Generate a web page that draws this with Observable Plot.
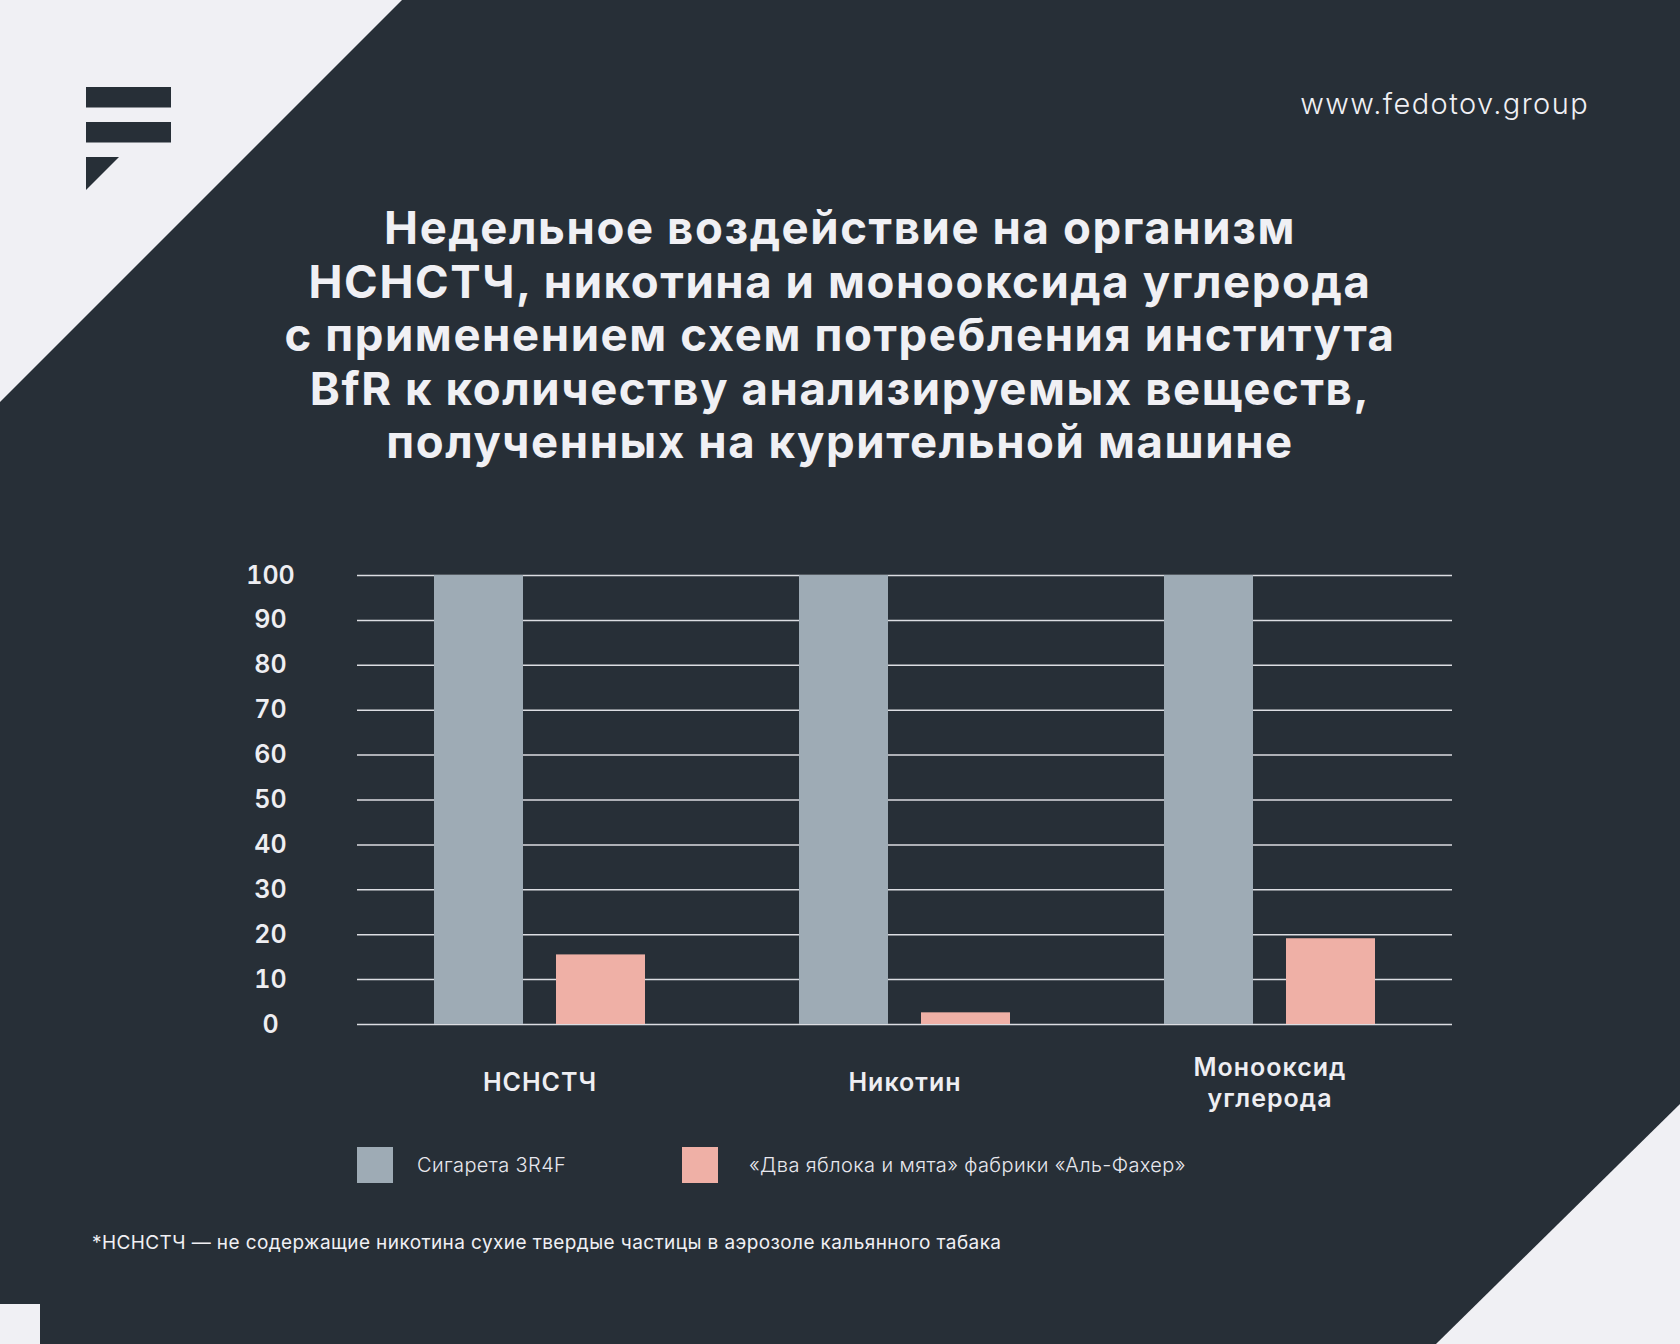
<!DOCTYPE html>
<html>
<head>
<meta charset="utf-8">
<script src="https://cdn.jsdelivr.net/npm/d3@7"></script>
<script src="https://cdn.jsdelivr.net/npm/@observablehq/plot@0.6"></script>
<style>
  html, body { margin: 0; padding: 0; background: #f0f0f4; }
  #page { position: relative; width: 1680px; height: 1344px; overflow: hidden; background: #f0f0f4; font-family: Inter, "Noto Sans", sans-serif; }
  #bg { position: absolute; left: 0; top: 0; }
  .abs { position: absolute; }
  #title { left: 0; width: 1680px; top: 201px; text-align: center; color: #f0f0f4; font-weight: 700; font-size: 45.5px; letter-spacing: 1.6px; line-height: 53.6px; }
  #url { right: 91px; top: 86px; color: #f0f0f4; font-weight: 300; font-size: 29px; letter-spacing: 1.4px; line-height: 36px; }
  #chart { left: 0; top: 540px; }
  #chart g[aria-label="fx-axis tick label"] text { letter-spacing: 1px; }
  .sw { width: 36px; height: 36px; }
  .lt { color: #e8e8ee; font-weight: 300; font-size: 20px; letter-spacing: 0.4px; line-height: 24px; white-space: nowrap; }
  #note { left: 92px; top: 1231px; color: #f0f0f4; font-weight: 400; font-size: 19px; letter-spacing: 0.4px; line-height: 24px; white-space: nowrap; }
</style>
</head>
<body>
<div id="page">
  <svg id="bg" width="1680" height="1344">
    <polygon points="402,0 1680,0 1680,1104 1436,1344 0,1344 0,402" fill="#272f37"/>
    <rect x="0" y="1304" width="40" height="40" fill="#f0f0f4"/>
    <rect x="86" y="87" width="85" height="20.5" fill="#272f37"/>
    <rect x="86" y="122" width="85" height="20.5" fill="#272f37"/>
    <polygon points="86,157 119,157 86,190" fill="#272f37"/>
  </svg>
  <div id="url" class="abs">www.fedotov.group</div>
  <div id="title" class="abs">Недельное воздействие на организм<br>НСНСТЧ, никотина и монооксида углерода<br>с применением схем потребления института<br>BfR к количеству анализируемых веществ,<br>полученных на курительной машине</div>
  <div id="chart" class="abs"></div>
  <div id="legend"></div>
  <div id="note" class="abs">*НСНСТЧ — не содержащие никотина сухие твердые частицы в аэрозоле кальянного табака</div>
</div>
<script>
const categories = ["НСНСТЧ", "Никотин", "Монооксид\nуглерода"];
const seriesNames = ["Сигарета 3R4F", "«Два яблока и мята» фабрики «Аль-Фахер»"];
const cigaretteValues = [100, 100, 100];
const hookahValues = [15.5, 2.6, 19.1];
const yTicks = [0, 10, 20, 30, 40, 50, 60, 70, 80, 90, 100];
const seriesColors = ["#9eabb5", "#efb0a6"];

const data = [];
categories.forEach((c, i) => {
  data.push({cat: c, series: seriesNames[0], value: cigaretteValues[i]});
  data.push({cat: c, series: seriesNames[1], value: hookahValues[i]});
});

const chart = Plot.plot({
  width: 1680,
  height: 584,
  marginLeft: 357,
  marginRight: 228,
  marginTop: 35,
  marginBottom: 100,
  style: {background: "transparent", color: "#eeeef2", fontFamily: "Inter, 'Noto Sans', sans-serif", overflow: "visible"},
  fx: {domain: categories, padding: 0, label: null},
  x: {domain: seriesNames, paddingInner: 0.27, paddingOuter: 0.62, axis: null},
  y: {domain: [0, 100], label: null},
  color: {domain: seriesNames, range: seriesColors},
  marks: [
    Plot.ruleY(yTicks, {stroke: "#dcdde2", strokeWidth: 1.5}),
    Plot.barY(data, {fx: "cat", x: "series", y: "value", fill: "series"}),
    Plot.axisY({ticks: yTicks, tickSize: 0, tickPadding: 87, textAnchor: "middle", fontSize: 25, fontWeight: 600, fill: "#eeeef2", label: null}),
    Plot.axisFx({anchor: "bottom", tickSize: 0, tickPadding: 57, lineAnchor: "middle", fontSize: 25, fontWeight: 600, lineHeight: 1.24, fill: "#eeeef2", label: null})
  ]
});
document.getElementById("chart").appendChild(chart);

// legend
const legend = document.getElementById("legend");
const swX = [357, 682];
const txX = [417, 749];
seriesNames.forEach((s, i) => {
  const sw = document.createElement("div");
  sw.className = "abs sw";
  sw.style.left = swX[i] + "px";
  sw.style.top = "1147px";
  sw.style.background = seriesColors[i];
  legend.appendChild(sw);
  const t = document.createElement("div");
  t.className = "abs lt";
  t.style.left = txX[i] + "px";
  t.style.top = "1153px";
  t.textContent = s;
  legend.appendChild(t);
});
</script>
</body>
</html>
